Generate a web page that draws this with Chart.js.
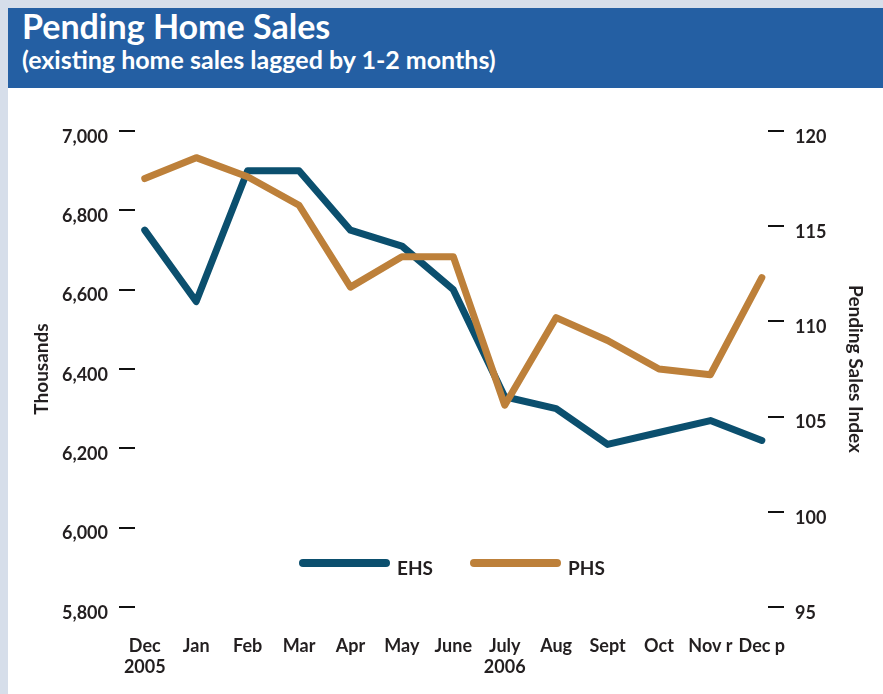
<!DOCTYPE html>
<html><head><meta charset="utf-8">
<script src="https://cdn.jsdelivr.net/npm/chart.js@4"></script>
<style>
html,body{margin:0;padding:0;background:#d6deea;width:883px;height:694px;overflow:hidden;}
#header{position:absolute;left:8px;top:8px;width:875px;height:80px;background:#245fa3;color:#fff;font-family:Lato,sans-serif;font-weight:bold;overflow:hidden;}
#t1{position:absolute;left:14px;top:-3px;font-size:34px;white-space:nowrap;}
#t2{position:absolute;left:14px;top:36px;font-size:25px;white-space:nowrap;}
#wrap{position:absolute;left:8px;top:88px;width:875px;height:606px;background:#fff;}
</style></head>
<body>
<div id="header"><div id="t1">Pending Home Sales</div><div id="t2">(existing home sales lagged by 1-2 months)</div></div>
<div id="wrap"><canvas id="c" width="875" height="606"></canvas></div>
<script>
const categories = [["Dec","2005"],"Jan","Feb","Mar","Apr","May","June",["July","2006"],"Aug","Sept","Oct","Nov r","Dec p"];
const ehsValues = [6750,6570,6900,6900,6750,6710,6600,6330,6300,6210,6240,6270,6220];
const phsValues = [117.5,118.6,117.6,116.1,111.8,113.4,113.4,105.6,110.2,109.0,107.5,107.2,112.3];
const leftTicks = [5800,6000,6200,6400,6600,6800,7000];
const rightTicks = [95,100,105,110,115,120];
const seriesNames = ["EHS","PHS"];

const TEXT = '#231f20';
const FONT = 'Lato, sans-serif';

const legendPlugin = {
  id: 'customLegend',
  afterDraw(chart) {
    const ctx = chart.ctx;
    const items = [
      {ds: chart.data.datasets[0], x: 291},
      {ds: chart.data.datasets[1], x: 462}
    ];
    const y = 475;
    ctx.save();
    items.forEach(it => {
      ctx.strokeStyle = it.ds.borderColor;
      ctx.lineWidth = 8;
      ctx.lineCap = 'round';
      ctx.beginPath();
      ctx.moveTo(it.x + 4, y);
      ctx.lineTo(it.x + 87, y);
      ctx.stroke();
      ctx.fillStyle = TEXT;
      ctx.font = 'bold 19px ' + FONT;
      ctx.textBaseline = 'middle';
      ctx.textAlign = 'left';
      ctx.fillText(it.ds.label, it.x + 98, y + 6);
    });
    ctx.restore();
  }
};

const yGrid = {drawOnChartArea:false, drawTicks:true, tickLength:16, color:'#111', lineWidth:2};

new Chart(document.getElementById('c'), {
  type: 'line',
  data: {
    datasets: [
      {label: seriesNames[0], data: ehsValues.map((v,i)=>({x:i,y:v})), yAxisID:'y', borderColor:'#0b4f6e', borderWidth:7, pointRadius:0, borderCapStyle:'round', borderJoinStyle:'round', order:1},
      {label: seriesNames[1], data: phsValues.map((v,i)=>({x:i,y:v})), yAxisID:'y1', borderColor:'#bd803a', borderWidth:7, pointRadius:0, borderCapStyle:'round', borderJoinStyle:'round', order:0}
    ]
  },
  options: {
    responsive:false, animation:false, devicePixelRatio:1,
    layout:{padding:{top:43,left:0,right:0,bottom:0}},
    plugins:{legend:{display:false}, tooltip:{enabled:false}},
    scales:{
      x:{type:'linear', min:-0.19, max:12.12,
        grid:{display:false}, border:{display:false},
        afterBuildTicks: s => { s.ticks = categories.map((c,i)=>({value:i})); },
        afterFit: s => { s.height = 87; },
        ticks:{autoSkip:false, maxRotation:0, minRotation:0, padding:20, color:TEXT, font:{family:FONT, size:18, weight:'bold'},
          callback:(v,i)=>categories[i]}
      },
      y:{position:'left', min:5800, max:7000,
        grid:yGrid, border:{display:false},
        afterBuildTicks: s => { s.ticks = leftTicks.map(v=>({value:v})); },
        afterFit: s => { s.width = 127; },
        ticks:{padding:11, labelOffset:6, color:TEXT, font:{family:FONT, size:18, weight:'bold'}, callback:v=>v.toLocaleString('en-US')},
        title:{display:true, text:'Thousands', color:TEXT, font:{family:FONT, size:19, weight:'bold'}, padding:{top:22,bottom:0}}
      },
      y1:{position:'right', min:95, max:120,
        grid:yGrid, border:{display:false},
        afterBuildTicks: s => { s.ticks = rightTicks.map(v=>({value:v})); },
        afterFit: s => { s.width = 115; },
        ticks:{padding:11, labelOffset:6, color:TEXT, font:{family:FONT, size:18, weight:'bold'}},
        title:{display:true, text:'Pending Sales Index', color:TEXT, font:{family:FONT, size:19, weight:'bold'}, padding:{top:16,bottom:0}}
      }
    }
  },
  plugins:[legendPlugin]
});
</script>
</body></html>
